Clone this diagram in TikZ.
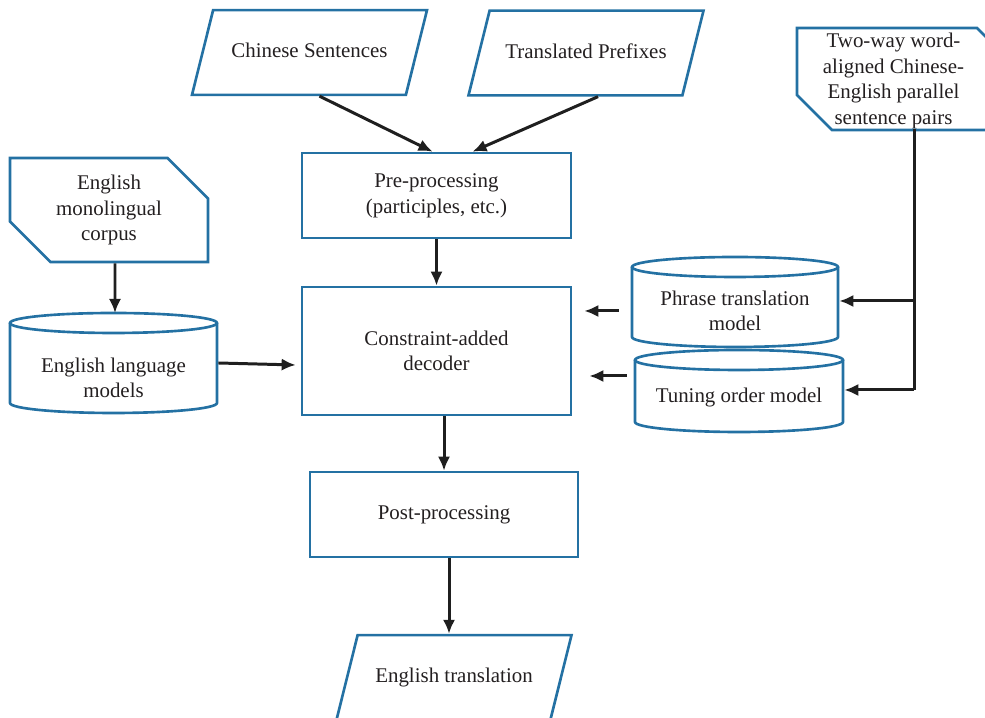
\documentclass[tikz,border=0pt]{standalone}
\usepackage{fontspec}
\setmainfont{Liberation Serif}
\usetikzlibrary{shapes.geometric,shapes.misc,arrows.meta,calc}
\definecolor{boxblue}{RGB}{36,113,163}
\definecolor{inktext}{RGB}{35,31,32}
\def\cylry{0.2cm}

% outline of a data store round a named node: #1 name, #2 half width,
% #3 rise to the top ellipse, #4 drop to the bottom ellipse
\newcommand{\drawstore}[4]{%
	\draw[draw=boxblue] ($(#1.center)+(0,#3)$) ellipse [x radius=#2, y radius=\cylry];
	\draw[draw=boxblue] ($(#1.center)+(-#2,#3)$) -- ($(#1.center)+(-#2,-#4)$)
		arc [start angle=180, end angle=360, x radius=#2, y radius=\cylry] -- ($(#1.center)+(#2,#3)$);}

\begin{document}
\begin{tikzpicture}[line width=1.5pt, text=inktext, font=\fontsize{11.9}{14.6}\selectfont]
	\tikzstyle{every node}=[align=center, inner sep=0pt]
	\tikzstyle{process}=[rectangle, draw=boxblue, minimum width=5.38cm, minimum height=1.7cm]
	\tikzstyle{data}=[trapezium, trapezium left angle=76, trapezium right angle=104, trapezium stretches body=true, draw=boxblue, text height=8.5pt, text depth=2.5pt, inner ysep=18.6pt, minimum width=4.7cm]
	\tikzstyle{card}=[chamfered rectangle, chamfered rectangle corners={north east,south west}, chamfered rectangle xsep=0.74cm, draw=boxblue, minimum width=3.96cm, minimum height=2.08cm]
	\tikzstyle{store}=[rectangle]
	\tikzstyle{conn}=[draw=black!88, line width=1.7pt, -{Latex[length=8pt,width=7pt]}]

	\useasboundingbox (0,0) rectangle (19.7,14.36);
	\clip (0,0) rectangle (19.7,14.36);

	% Draw the inputs
	\node[data] (cs) at (6.19,13.31) {Chinese Sentences};
	\node[data] (tp) at (11.72,13.30) {Translated Prefixes};
	\node[card] (emc) at (2.18,10.16) {English\\monolingual\\corpus};
	\node[minimum width=3.86cm, minimum height=2.04cm] (twp) at (17.87,12.74) {Two-way word-\\aligned Chinese-\\English parallel\\sentence pairs};
	\draw[draw=boxblue] (15.94,13.80) -- (19.54,13.80) -- (20.28,13.06) -- (20.28,11.76) -- (16.64,11.76) -- (15.94,12.46) -- cycle;

	% Draw the processing steps
	\node[process] (pre) at (8.73,10.45) {Pre-processing\\(participles, etc.)};
	\node[process, minimum height=2.56cm] (dec) at (8.73,7.34) {Constraint-added\\decoder};
	\node[process, minimum width=5.36cm] (post) at (8.88,4.07) {Post-processing};
	\node[data] (et) at (9.08,0.81) {English translation};

	% Draw the models
	\node[store, minimum width=4.14cm] (elm) at (2.27,6.80) {English language\\models};
	\node[store, minimum width=4.12cm] (ptm) at (14.70,8.14) {Phrase translation\\model};
	\node[store, minimum width=4.16cm] (tom) at (14.78,6.40) {Tuning order model};
	\drawstore{elm}{2.07cm}{1.10cm}{0.50cm}
	\drawstore{ptm}{2.06cm}{0.88cm}{0.52cm}
	\drawstore{tom}{2.08cm}{0.76cm}{0.48cm}

	% Connect the steps
	\draw[conn] ([xshift=0.2cm]cs.south) -- ([xshift=-0.08cm]pre.north);
	\draw[conn] ([xshift=0.24cm]tp.south) -- ([xshift=0.72cm]pre.north);
	\draw[conn] (pre.south) -- (dec.north);
	\draw[conn] ([xshift=0.12cm]emc.south) -- ($(elm.center)+(0.03,1.3)$);
	\draw[conn] ([yshift=0.3cm]elm.east) -- ([xshift=-0.1cm,yshift=-0.28cm]dec.west);
	\draw[conn] (dec.south -| post.north) -- (post.north);
	\draw[conn] ([xshift=0.1cm]post.south) -- ([xshift=0.1cm]post.south |- et.north);

	% Feed the models into the decoder
	\draw[conn] ($(ptm.west)+(-0.24,0)$) -- ($(ptm.west -| dec.east)+(0.24,0)$);
	\draw[conn] ($(tom.west)+(-0.14,0.44)$) -- ($(tom.west -| dec.east)+(0.34,0.44)$);

	% Train the models from the aligned pairs
	\coordinate (trunk) at ($(twp.south)+(0.41,0.08)$);
	\draw[draw=black!88, line width=1.7pt] (trunk) -- ([yshift=0.16cm]trunk |- tom.east);
	\draw[conn] ([yshift=0.2cm]trunk |- ptm.east) -- ([yshift=0.2cm]ptm.east);
	\draw[conn] ([yshift=0.16cm]trunk |- tom.east) -- ([yshift=0.16cm]tom.east);
\end{tikzpicture}
\end{document}
